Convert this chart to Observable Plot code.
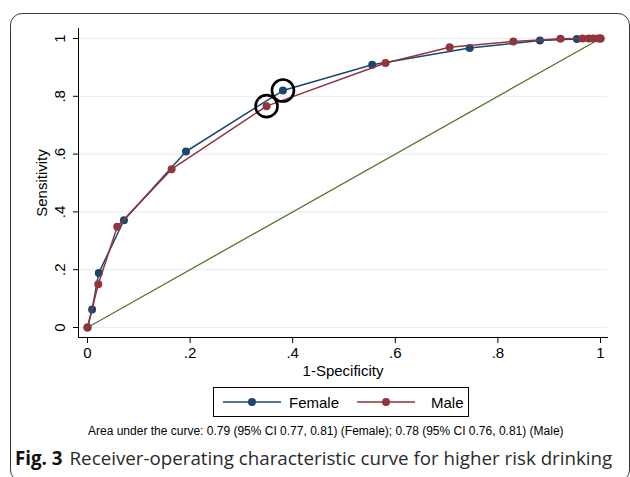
<!DOCTYPE html>
<html>
<head>
<meta charset="utf-8">
<script src="https://cdn.jsdelivr.net/npm/d3@7"></script>
<script src="https://cdn.jsdelivr.net/npm/@observablehq/plot@0.6"></script>
<style>
  html, body { margin: 0; padding: 0; background: #fff; overflow: hidden; }
  #wrap { position: relative; width: 630px; height: 477px; font-family: "Liberation Sans", Arial, sans-serif; }
  #chart { position: absolute; left: 0; top: 0; }
  #chart svg { overflow: visible; }
  #chart svg text { font-size: 15px; }
  #frame { position: absolute; left: 10px; top: 13px; width: 620px; height: 469px; border: 1.3px solid #3a3a3a; border-radius: 12px; box-sizing: border-box; pointer-events: none; z-index: 2; }
  #legend { position: absolute; left: 213px; top: 387px; width: 256px; height: 30px; border: 1px solid #000; box-sizing: border-box; background: #fff; }
  #legend .item { position: absolute; top: 0; height: 28px; display: flex; align-items: center; font-size: 15px; color: #000; }
  #auc { position: absolute; left: 88px; top: 424px; font-size: 12px; color: #000; white-space: nowrap; }
  #fig { position: absolute; left: 15px; top: 445px; font-family: "Open Sans", "Noto Sans", sans-serif; font-size: 18.75px; color: #2a2a2a; white-space: nowrap; }
  #fig b { font-weight: 700; color: #111; margin-right: 7px; }
</style>
</head>
<body>
<div id="wrap">
  <div id="chart"></div>
  <div id="legend"></div>
  <div id="auc"></div>
  <div id="fig"></div>
  <div id="frame"></div>
</div>
<script>
// ---- data ----
const seriesNames = ["Female", "Male"];
const seriesColors = ["#1a476f", "#90353b"];
const femaleFpr = [0, 0.009, 0.022, 0.071, 0.192, 0.381, 0.555, 0.745, 0.882, 0.954, 1];
const femaleTpr = [0, 0.062, 0.189, 0.371, 0.609, 0.820, 0.909, 0.967, 0.993, 0.998, 1];
const maleFpr = [0, 0.021, 0.058, 0.164, 0.349, 0.581, 0.706, 0.830, 0.922, 0.965, 0.977, 0.986, 0.996, 1];
const maleTpr = [0, 0.150, 0.349, 0.548, 0.766, 0.915, 0.970, 0.990, 0.999, 1, 1, 1, 1, 1];
const circledIndex = [5, 4]; // circled cut-off point: Female index 5, Male index 4
const refFpr = [0, 1];
const refTpr = [0, 1];
const tickValues = [0, 0.2, 0.4, 0.6, 0.8, 1];
const tickLabels = ["0", ".2", ".4", ".6", ".8", "1"];
const xLabel = "1-Specificity";
const yLabel = "Sensitivity";
const aucText = "Area under the curve: 0.79 (95% CI 0.77, 0.81) (Female); 0.78 (95% CI 0.76, 0.81) (Male)";
const figLabel = "Fig. 3";
const figTitle = "Receiver-operating characteristic curve for higher risk drinking";

// ---- tables built from the arrays ----
const female = femaleFpr.map((x, i) => ({x, y: femaleTpr[i]}));
const male = maleFpr.map((x, i) => ({x, y: maleTpr[i]}));
const refLine = refFpr.map((x, i) => ({x, y: refTpr[i]}));
const circled = [female[circledIndex[0]], male[circledIndex[1]]];
const fmt = d => tickLabels[tickValues.indexOf(d)];

const plot = Plot.plot({
  width: 630,
  height: 385,
  marginLeft: 78,
  marginRight: 23,
  marginTop: 28,
  marginBottom: 48,
  x: {domain: [0, 1], insetLeft: 9, insetRight: 7},
  y: {domain: [0, 1], insetTop: 10, insetBottom: 10},
  style: {fontFamily: "'Liberation Sans', Arial, sans-serif", fontSize: "15px", color: "#000", background: "transparent"},
  marks: [
    Plot.gridY(tickValues, {stroke: "#e6eff1", strokeOpacity: 1, strokeWidth: 1.2}),
    Plot.axisY({ticks: tickValues, tickFormat: fmt, tickRotate: -90, tickSize: 5, tickPadding: 9,
      label: yLabel, labelAnchor: "center", labelOffset: 42, labelArrow: "none"}),
    Plot.axisX({ticks: tickValues, tickFormat: fmt, tickSize: 6, tickPadding: 4,
      label: xLabel, labelAnchor: "center", labelOffset: 38, labelArrow: "none"}),
    Plot.frame({anchor: "left", stroke: "#000", strokeWidth: 1}),
    Plot.frame({anchor: "bottom", stroke: "#000", strokeWidth: 1}),
    Plot.line(refLine, {x: "x", y: "y", stroke: "#55752f", strokeWidth: 1.3}),
    Plot.line(female, {x: "x", y: "y", stroke: seriesColors[0], strokeWidth: 1.5}),
    Plot.dot(female, {x: "x", y: "y", r: 4, fill: seriesColors[0]}),
    Plot.line(male, {x: "x", y: "y", stroke: seriesColors[1], strokeWidth: 1.5}),
    Plot.dot(male, {x: "x", y: "y", r: 4, fill: seriesColors[1]}),
    Plot.dot(circled, {x: "x", y: "y", r: 11, stroke: "#000", strokeWidth: 2.6, fill: "none"})
  ]
});
document.getElementById("chart").appendChild(plot);

// ---- legend ----
const legend = document.getElementById("legend");
const legendPos = [{line: 9, text: 75}, {line: 143, text: 217}];
seriesNames.forEach((name, i) => {
  const sw = document.createElement("div");
  sw.className = "item";
  sw.style.left = legendPos[i].line + "px";
  sw.innerHTML = `<svg width="58" height="10"><line x1="0" x2="58" y1="5" y2="5" stroke="${seriesColors[i]}" stroke-width="1.5"/><circle cx="29" cy="5" r="4" fill="${seriesColors[i]}"/></svg>`;
  legend.appendChild(sw);
  const t = document.createElement("div");
  t.className = "item";
  t.style.left = legendPos[i].text + "px";
  t.textContent = name;
  legend.appendChild(t);
});

document.getElementById("auc").textContent = aucText;
document.getElementById("fig").innerHTML = `<b>${figLabel}</b>${figTitle}`;
</script>
</body>
</html>
